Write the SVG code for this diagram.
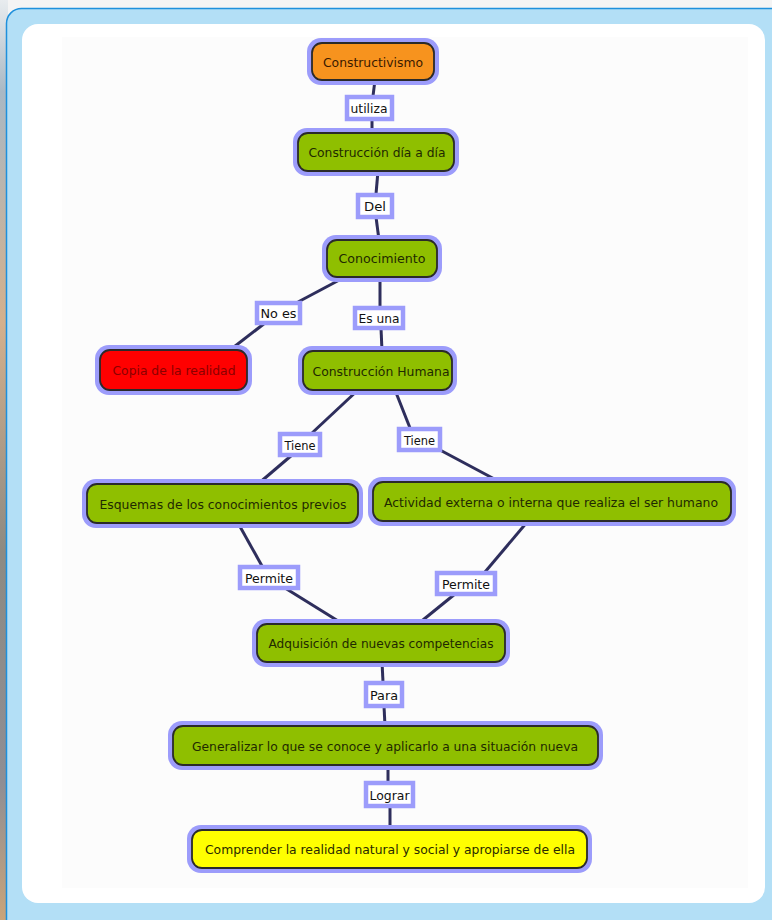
<svg xmlns="http://www.w3.org/2000/svg" width="772" height="920" viewBox="0 0 772 920">
<defs>
<linearGradient id="strip" x1="0" y1="0" x2="0" y2="1">
<stop offset="0" stop-color="#e8ecef"/>
<stop offset="0.1" stop-color="#a9b8c4"/>
<stop offset="0.35" stop-color="#d4b08c"/>
<stop offset="0.6" stop-color="#8d8a82"/>
<stop offset="0.85" stop-color="#8f8e94"/>
<stop offset="1" stop-color="#c9a47a"/>
</linearGradient>
<filter id="soft" x="-10%" y="-30%" width="120%" height="160%">
<feGaussianBlur stdDeviation="0.4"/>
</filter>
<style>
.halo{fill:#9c9cfb;filter:url(#soft);}
.box{stroke:#2a2a2a;stroke-width:1.8;}
.g{fill:#8fbf00;}
.o{fill:#f7931e;}
.r{fill:#ff0000;}
.y{fill:#ffff00;}
.t{font-family:"DejaVu Sans Condensed","DejaVu Sans",sans-serif;font-size:13px;fill:#1f2a00;text-anchor:middle;}
.lb{fill:#ffffff;stroke:#9c9cfb;stroke-width:4.5;}
.lt{font-family:"DejaVu Sans Condensed","DejaVu Sans",sans-serif;font-size:13px;fill:#111;text-anchor:middle;}
.c line{stroke:#2e2e5c;stroke-width:3;}
</style>
</defs>
<rect x="0" y="0" width="772" height="920" fill="#f4f4f4"/>
<rect x="0" y="0" width="8" height="920" fill="url(#strip)"/>
<rect x="6.5" y="8.5" width="790" height="940" rx="15" fill="#b3dff6" stroke="#1e90dc" stroke-width="1.5"/>
<rect x="22" y="24" width="743" height="879" rx="16" fill="#ffffff"/>
<rect x="62" y="37" width="686" height="851" fill="#fcfcfc"/>

<g class="c" id="connectors">
<line x1="375" y1="80" x2="373" y2="96"/>
<line x1="372" y1="119" x2="372" y2="133"/>
<line x1="378" y1="171" x2="376" y2="194"/>
<line x1="376" y1="217" x2="379" y2="240"/>
<line x1="345" y1="277" x2="298" y2="302"/>
<line x1="265" y1="323" x2="230" y2="350"/>
<line x1="380" y1="277" x2="380" y2="307"/>
<line x1="381" y1="328" x2="382" y2="351"/>
<line x1="358" y1="390" x2="312" y2="433"/>
<line x1="292" y1="455" x2="258" y2="484"/>
<line x1="395" y1="390" x2="410" y2="428"/>
<line x1="440" y1="450" x2="500" y2="482"/>
<line x1="238" y1="523" x2="262" y2="566"/>
<line x1="285" y1="588" x2="343" y2="624"/>
<line x1="528" y1="521" x2="485" y2="572"/>
<line x1="455" y1="594" x2="418" y2="624"/>
<line x1="382" y1="662" x2="383" y2="682"/>
<line x1="384" y1="706" x2="385" y2="726"/>
<line x1="388" y1="765" x2="388" y2="782"/>
<line x1="390" y1="806" x2="390" y2="830"/>
</g>

<g id="n-constructivismo">
<rect class="halo" x="307" y="38" width="132" height="47" rx="14"/>
<rect class="box o" x="312" y="43" width="122" height="37" rx="10"/>
<text class="t" x="373" y="66.5" textLength="100" lengthAdjust="spacingAndGlyphs" style="fill:#3a1a00">Constructivismo</text>
</g>
<g id="l-utiliza">
<rect class="lb" x="347" y="97" width="45" height="22"/>
<text class="lt" x="369" y="112.5" textLength="37" lengthAdjust="spacingAndGlyphs">utiliza</text>
</g>
<g id="n-construccion-dia">
<rect class="halo" x="293" y="128" width="166" height="48" rx="14"/>
<rect class="box g" x="298" y="133" width="156" height="38" rx="10"/>
<text class="t" x="377" y="156.5" textLength="137" lengthAdjust="spacingAndGlyphs">Construcción día a día</text>
</g>
<g id="l-del">
<rect class="lb" x="358" y="195" width="34" height="22"/>
<text class="lt" x="375" y="210.5" textLength="22" lengthAdjust="spacingAndGlyphs">Del</text>
</g>
<g id="n-conocimiento">
<rect class="halo" x="322" y="235" width="120" height="47" rx="14"/>
<rect class="box g" x="327" y="240" width="110" height="37" rx="10"/>
<text class="t" x="382" y="262.5" textLength="87" lengthAdjust="spacingAndGlyphs">Conocimiento</text>
</g>
<g id="l-noes">
<rect class="lb" x="257" y="303" width="43" height="20"/>
<text class="lt" x="278.5" y="317.5" textLength="36" lengthAdjust="spacingAndGlyphs">No es</text>
</g>
<g id="l-esuna">
<rect class="lb" x="355" y="308" width="48" height="20"/>
<text class="lt" x="379" y="322.5" textLength="41" lengthAdjust="spacingAndGlyphs">Es una</text>
</g>
<g id="n-copia">
<rect class="halo" x="95" y="345" width="157" height="50" rx="14"/>
<rect class="box r" x="100" y="350" width="147" height="40" rx="10"/>
<text class="t" x="174" y="374.5" textLength="123" lengthAdjust="spacingAndGlyphs" style="fill:#8a0000">Copia de la realidad</text>
</g>
<g id="n-construccion-humana">
<rect class="halo" x="298" y="346" width="159" height="49" rx="14"/>
<rect class="box g" x="303" y="351" width="149" height="39" rx="10"/>
<text class="t" x="381" y="375.5" textLength="137" lengthAdjust="spacingAndGlyphs">Construcción Humana</text>
</g>
<g id="l-tiene1">
<rect class="lb" x="280" y="434" width="40" height="21"/>
<text class="lt" x="300" y="449.5" textLength="31" lengthAdjust="spacingAndGlyphs">Tiene</text>
</g>
<g id="l-tiene2">
<rect class="lb" x="399" y="429" width="41" height="21"/>
<text class="lt" x="419.5" y="444.5" textLength="31" lengthAdjust="spacingAndGlyphs">Tiene</text>
</g>
<g id="n-esquemas">
<rect class="halo" x="82" y="479" width="281" height="49" rx="14"/>
<rect class="box g" x="87" y="484" width="271" height="39" rx="10"/>
<text class="t" x="223" y="508.5" textLength="247" lengthAdjust="spacingAndGlyphs">Esquemas de los conocimientos previos</text>
</g>
<g id="n-actividad">
<rect class="halo" x="368" y="477" width="368" height="49" rx="14"/>
<rect class="box g" x="373" y="482" width="358" height="39" rx="10"/>
<text class="t" x="551" y="506.5" textLength="334" lengthAdjust="spacingAndGlyphs">Actividad externa o interna que realiza el ser humano</text>
</g>
<g id="l-permite1">
<rect class="lb" x="240" y="567" width="58" height="21"/>
<text class="lt" x="269" y="582.5" textLength="48" lengthAdjust="spacingAndGlyphs">Permite</text>
</g>
<g id="l-permite2">
<rect class="lb" x="437" y="573" width="58" height="21"/>
<text class="lt" x="466" y="588.5" textLength="48" lengthAdjust="spacingAndGlyphs">Permite</text>
</g>
<g id="n-adquisicion">
<rect class="halo" x="252" y="619" width="258" height="48" rx="14"/>
<rect class="box g" x="257" y="624" width="248" height="38" rx="10"/>
<text class="t" x="381" y="647.5" textLength="225" lengthAdjust="spacingAndGlyphs">Adquisición de nuevas competencias</text>
</g>
<g id="l-para">
<rect class="lb" x="366" y="683" width="36" height="23"/>
<text class="lt" x="384" y="699.5" textLength="28" lengthAdjust="spacingAndGlyphs">Para</text>
</g>
<g id="n-generalizar">
<rect class="halo" x="168" y="721" width="435" height="49" rx="14"/>
<rect class="box g" x="173" y="726" width="425" height="39" rx="10"/>
<text class="t" x="385" y="750.5" textLength="386" lengthAdjust="spacingAndGlyphs">Generalizar lo que se conoce y aplicarlo a una situación nueva</text>
</g>
<g id="l-lograr">
<rect class="lb" x="366" y="783" width="47" height="23"/>
<text class="lt" x="389.5" y="799.5" textLength="40" lengthAdjust="spacingAndGlyphs">Lograr</text>
</g>
<g id="n-comprender">
<rect class="halo" x="187" y="825" width="405" height="48" rx="14"/>
<rect class="box y" x="192" y="830" width="395" height="38" rx="10"/>
<text class="t" x="390" y="853.5" textLength="370" lengthAdjust="spacingAndGlyphs" style="fill:#2a2a00">Comprender la realidad natural y social y apropiarse de ella</text>
</g>
</svg>
